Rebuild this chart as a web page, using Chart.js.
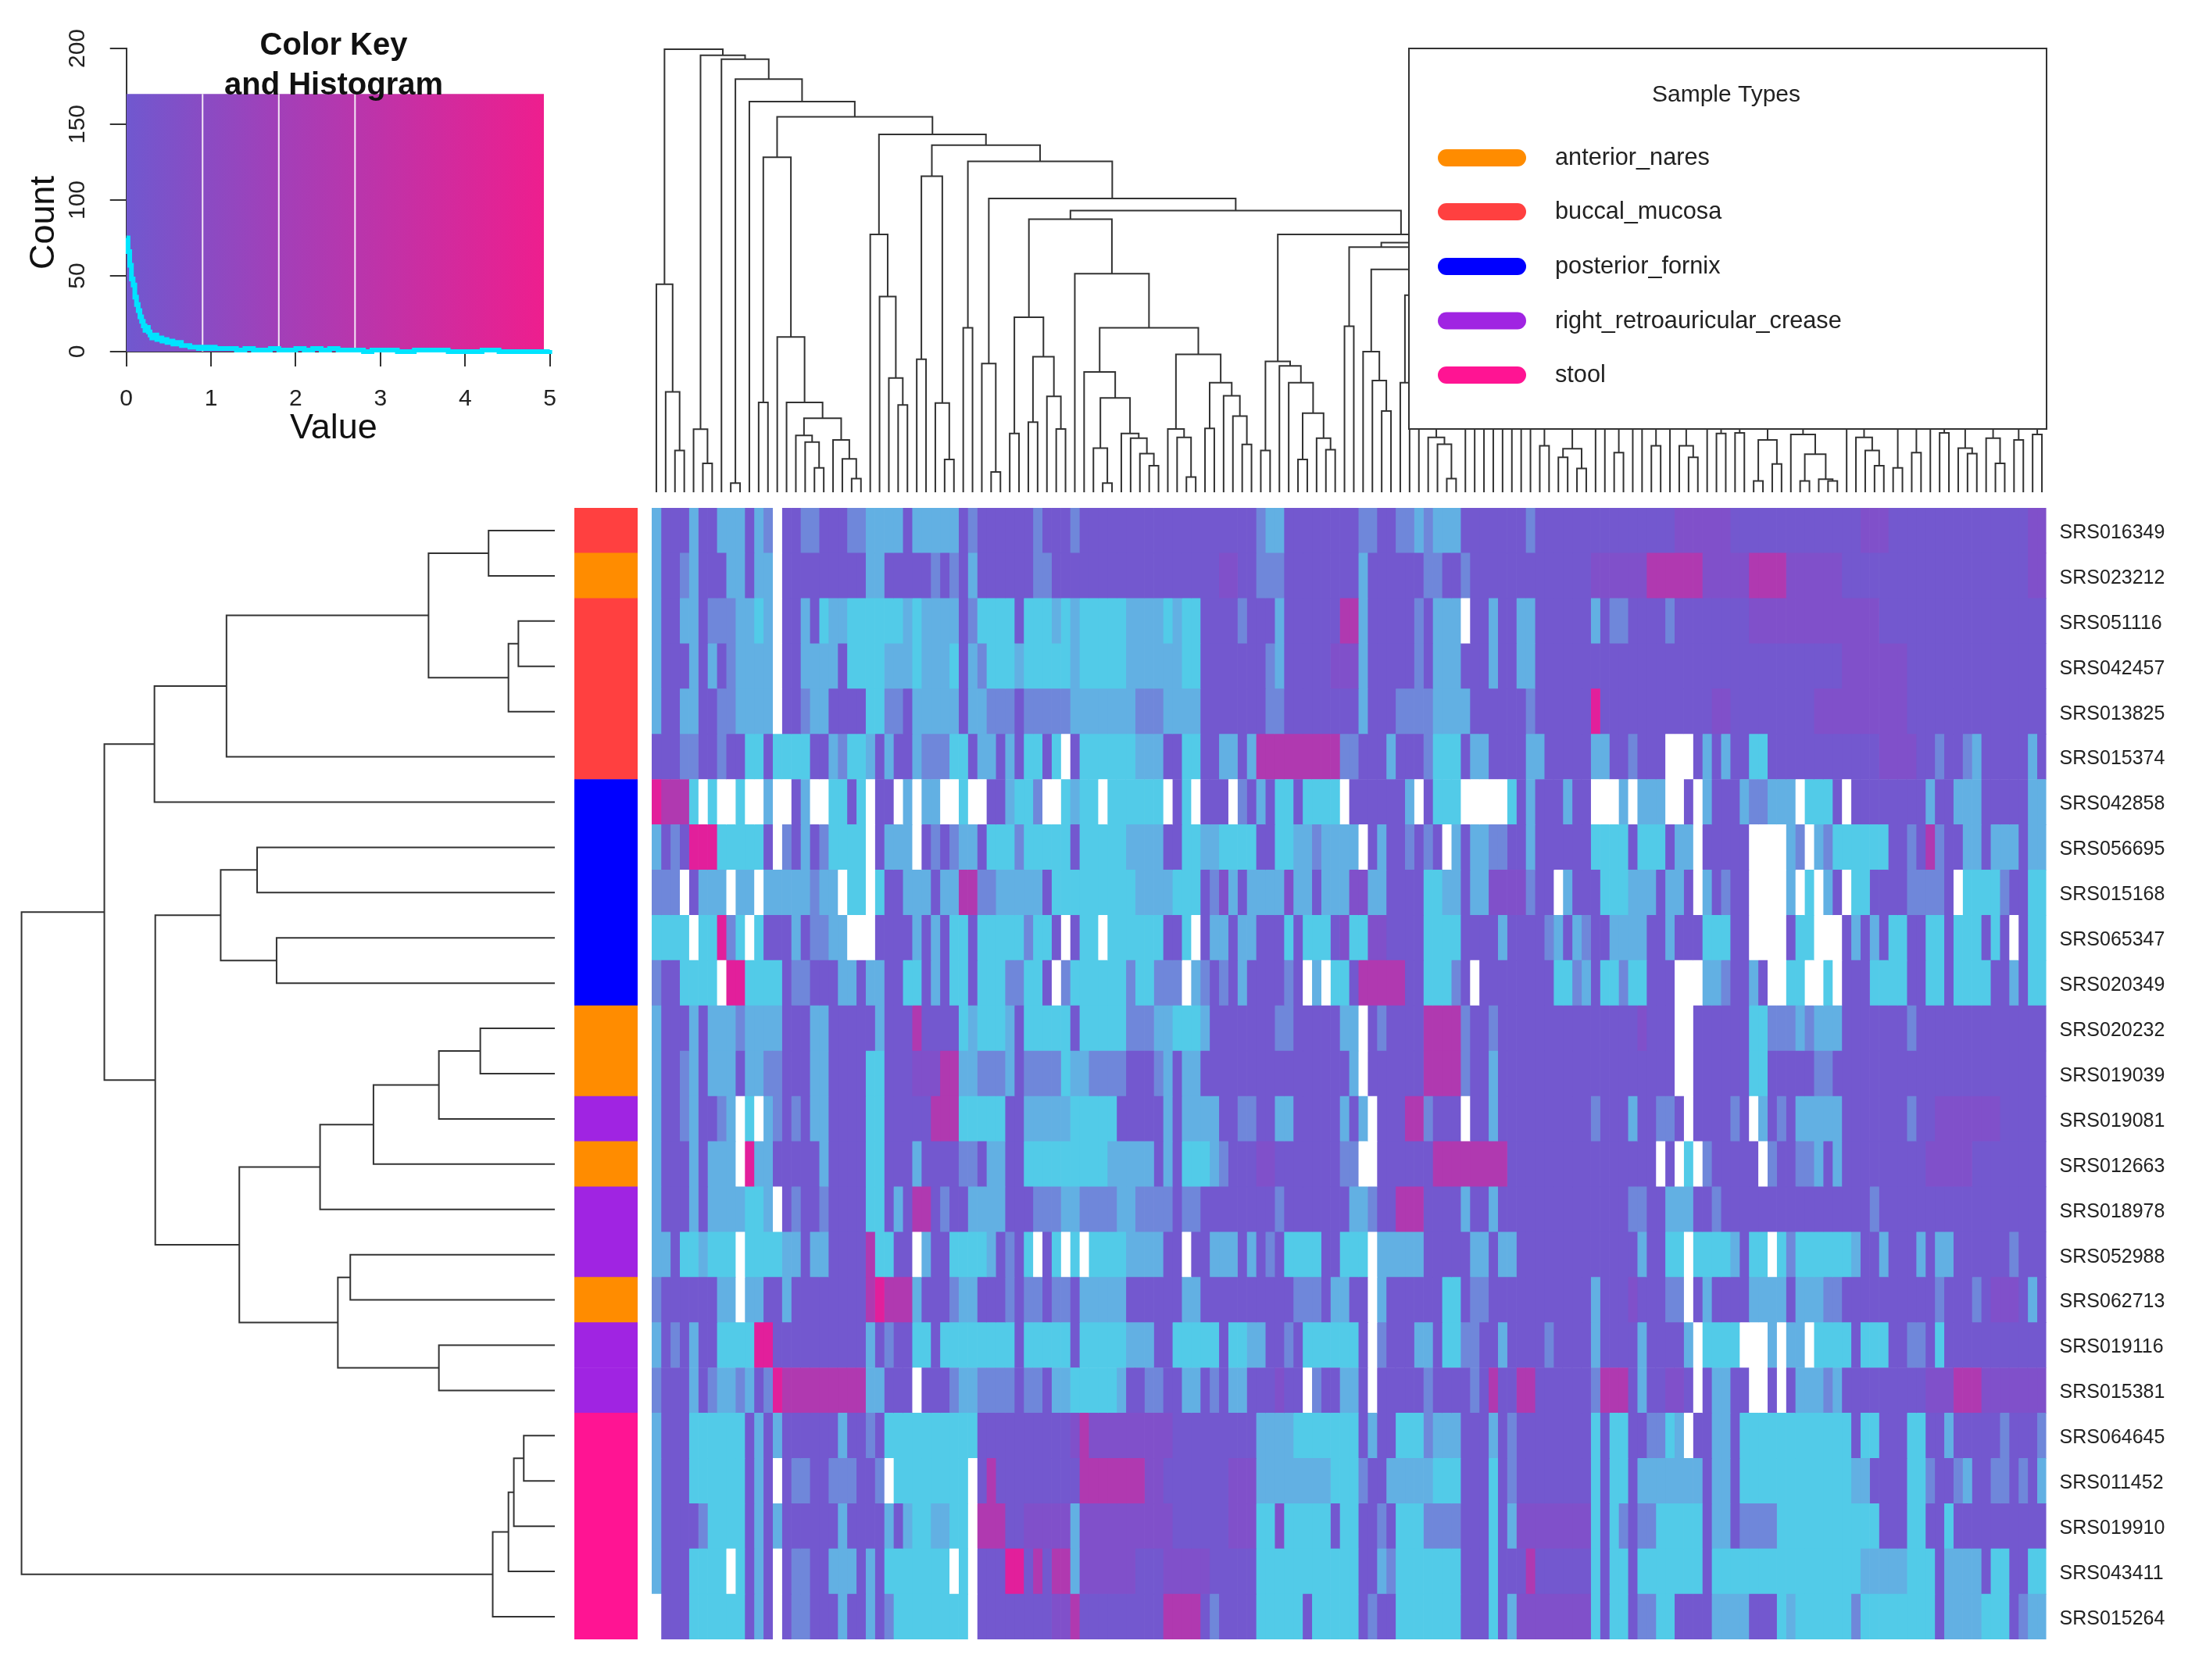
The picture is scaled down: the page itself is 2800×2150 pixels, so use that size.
<!DOCTYPE html>
<html lang="en">
<head>
  <meta charset="UTF-8" />
  <title>Heatmap with Color Key</title>
  <script src="https://cdn.jsdelivr.net/npm/chart.js"></script>
  <style>
    body { margin: 0; background: #fff; }
    #page { position: relative; width: 2800px; height: 2150px; overflow: hidden; background: #fff; }
    canvas { position: absolute; display: block; filter: blur(0.6px); }
    #keyChart { left: 0; top: 0; }
    #topTreeChart { left: 834px; top: 60px; }
    #leftTreeChart { left: 0; top: 650px; }
    #sideChart { left: 735px; top: 650px; }
    #heatChart { left: 834px; top: 650px; }
    #legendChart { left: 1802px; top: 61px; }
  </style>
</head>
<body>
<div id="page">
  <canvas id="keyChart" width="800" height="640"></canvas>
  <canvas id="topTreeChart" width="1785" height="570"></canvas>
  <canvas id="leftTreeChart" width="710" height="1448"></canvas>
  <canvas id="sideChart" width="81" height="1448"></canvas>
  <canvas id="heatChart" width="1966" height="1448"></canvas>
  <canvas id="legendChart" width="818" height="489"></canvas>
</div>
<script>
  // samples, top to bottom
  const sampleLabels = ["SRS016349", "SRS023212", "SRS051116", "SRS042457", "SRS013825", "SRS015374",
    "SRS042858", "SRS056695", "SRS015168", "SRS065347", "SRS020349", "SRS020232", "SRS019039",
    "SRS019081", "SRS012663", "SRS018978", "SRS052988", "SRS062713", "SRS019116", "SRS015381",
    "SRS064645", "SRS011452", "SRS019910", "SRS043411", "SRS015264"];

  const sampleTypes = ["anterior_nares", "buccal_mucosa", "posterior_fornix", "right_retroauricular_crease", "stool"];
  const typeColors = ["#ff8c00", "#ff4040", "#0000ff", "#a024e2", "#ff1493"];
  const sampleTypeOfRow = [1, 0, 1, 1, 1, 1, 2, 2, 2, 2, 2, 0, 0, 3, 0, 3, 3, 0, 3, 3, 4, 4, 4, 4, 4];

  // cell levels: p low purple, m/r/k rising to pink, l/b/c blue side, w empty
  const levelColors = { p: "#7358cf", m: "#8050ca", r: "#b039b0", k: "#e21f9b",
                        l: "#6f87da", b: "#62b0e3", c: "#52cbe8", w: "#ffffff" };

  // one string per row: "<first column><level>", each run lasts until the next one
  const heatRuns = [
    "0b 1p 4b 5p 7b 10p 11b 12l 13w 14p 16l 18p 21l 23b 27p 28b 33p 34l 35p 41l 42p 45l 46p 65l 66b 68p 76l 78p 80l 82b 83l 84b 87p 94l 95p 110m 116p 130m 133p 148m",
    "0b 1p 3l 4b 5p 8b 10p 11b 13w 14p 23b 25p 30l 31p 32l 33p 34b 35p 41l 43p 61m 63p 65l 68p 76b 77p 83l 85p 87l 88p 101m 107r 113m 118r 122m 128p 148m",
    "0b 1p 3b 5p 6l 9b 11c 12b 13w 14p 16b 17p 18c 19b 21c 27b 28c 29b 33p 34l 35c 39p 40c 43b 44c 45b 46c 51b 55c 56b 57c 59p 63l 64p 67b 68p 74r 76b 77p 82l 83p 84b 87w 88p 90b 91p 93b 95p 101b 102p 103l 105p 109l 110p 118m 132p",
    "0b 1p 4b 5p 6b 7p 8l 9b 13w 14p 16b 20p 21c 25b 28c 29b 32c 33p 34b 35l 36c 39b 40c 45b 46c 51b 57c 59p 66l 67b 68p 73m 76b 77p 82l 83p 84b 87p 90b 91p 93b 95p 128m 135p",
    "0b 1p 3b 5p 7l 9b 13w 14p 16l 17b 19p 23c 25l 27p 28b 33p 34b 36l 39p 40l 45b 52l 55b 59p 66l 68p 76b 77p 80l 84b 88p 94l 95p 101k 102p 114m 116p 125m 135p",
    "0p 3l 5p 7l 8p 10c 12p 13c 17p 19b 20l 21c 23b 24p 25b 26p 28b 29l 32c 34p 35b 37p 38b 39p 40c 42p 43c 44w 45p 46c 52b 55p 57c 59p 61b 63p 64b 65r 74l 76p 79b 80p 83l 84c 87p 88b 90p 94b 96p 101b 103p 105l 106p 109w 112p 113b 114p 115b 116p 118c 120p 132m 136p 138l 139p 141l 142b 143p 148b 149p",
    "0k 1r 4c 5w 6c 7w 9c 10w 12b 13w 15p 16b 17w 19c 21p 22c 23w 24p 26w 27b 28w 29b 31w 33c 34w 36p 38b 39c 41l 42w 44c 45b 46c 48w 49c 55w 56p 57c 58w 59p 62w 63l 64p 65b 66p 67c 69p 70c 74w 75p 81b 82w 83p 84c 87w 92c 93p 94b 95p 98b 99p 101w 104b 105w 106b 109w 111p 112w 113b 114p 117b 118l 120b 123w 124c 127p 128w 129p 137b 138p 140b 143p 148b",
    "0b 1p 2l 3p 4k 7c 12p 13w 14l 15p 16b 17p 18l 19c 23w 24p 25b 28w 29p 30l 31p 32l 33b 35p 36c 39l 40c 45p 46c 51b 55p 57c 59b 61c 65p 67c 69b 71l 72b 76w 77p 78b 79p 81l 82p 83l 84p 85w 86b 87p 88b 90l 92p 94b 95p 101c 105p 106c 109p 110b 112w 113p 118w 122b 123l 124w 125b 126l 127c 133p 135l 136p 137r 138l 139p 141b 143p 144b 147p 148b",
    "0l 3w 4p 5b 8w 9b 11w 12b 17l 18b 20w 21c 23w 24c 25p 27b 30p 31b 33r 35l 37b 42p 43c 52b 55b 56c 59p 60l 61m 62b 63p 64b 68m 69b 71p 72b 75m 77b 79p 83c 85b 87p 88b 90m 94l 95p 97w 98b 99p 102c 105b 108p 109b 111p 112w 113b 114p 115l 116p 118w 122b 123w 124c 125w 126b 127p 128w 129c 131p 135l 139p 140w 141c 145l 146p 148c",
    "0c 4w 5c 7k 8l 9c 10w 11c 12p 15b 16p 17l 19b 21w 24p 28b 29p 30b 31p 32c 34p 35c 40l 41c 43p 44w 45p 46c 48w 49c 55p 57c 58w 59p 60b 62p 63b 65p 68c 69p 70c 73p 74m 75c 77m 79p 83c 87p 91b 92p 96l 97b 98p 99b 100l 101p 103b 107p 109b 110p 113c 116p 118w 122p 123c 125w 128p 129b 130p 131b 132p 133c 135p 137c 139p 140c 143p 144c 145p 146w 147p 148c",
    "0l 1p 3c 7w 8k 10c 14p 15l 17p 20b 22p 23b 25p 27c 29p 30b 31p 32c 34p 35c 38l 40c 42p 43w 44l 45c 51l 52c 54l 57w 58b 59l 60p 61l 62p 63b 64p 68l 69p 70w 71b 72w 73c 75p 76r 81p 83c 86l 87p 88w 89p 97c 99l 100b 101p 102c 104l 105c 107p 110w 113b 115l 116p 118b 119p 120w 122c 124w 126c 127w 128p 131c 135p 137c 139p 140c 144p 146b 147p 148c",
    "0b 1p 4b 5p 6b 9l 10b 14p 17b 19p 24b 25p 28r 29p 33c 34b 35c 38b 39p 40c 45p 46c 51l 54b 56c 59b 60p 67l 69p 74b 76w 77p 78l 79p 83r 87l 88p 90l 91p 106m 107p 110w 112p 118c 120l 123b 124l 125b 128p 135l 136p",
    "0b 1p 3l 4b 5p 6b 9p 10b 12l 14p 17b 19p 23c 25p 28m 31r 33b 35l 38b 39p 40l 44c 45b 47l 51p 54l 55b 56p 57b 59p 75b 76w 77p 83r 87l 88p 90b 91p 110w 112p 118c 120p 125l 127p",
    "0b 1p 3l 4b 5p 7l 8b 9w 10c 11w 12b 13l 14p 15l 16p 17b 19p 23c 25p 30r 33c 38p 40b 45c 50p 55b 56p 57b 61p 63l 65p 67b 69p 74b 75p 76b 77w 78p 81r 83l 84p 87w 88p 90b 91p 101l 102p 105b 106p 108l 110p 111w 112p 116l 117p 118w 119b 120p 121l 122p 123b 128p 135l 136p 138m 145p",
    "0b 1p 4b 5p 6b 9w 10k 11b 13p 18b 19p 23c 25p 28b 29p 33l 35p 36b 38p 40c 49b 54p 55b 56p 57c 60b 61l 62p 65m 67p 74l 76w 78p 84r 92p 108w 109p 110w 111c 112w 113l 114p 119w 120l 121p 123l 125b 126p 127b 128p 137m 142p",
    "0b 1p 4b 5p 6b 10c 12b 13w 14p 15l 16p 18l 19p 23c 25p 26b 27p 28r 30p 31l 32p 34b 38p 41l 44b 46l 50b 52l 56p 57l 59p 67l 68p 75b 77l 78p 80r 83p 87b 88p 90b 91p 105l 107p 109b 112p 114l 115p 131l 132p",
    "0b 2p 3c 5b 6c 9w 10c 14b 16p 17b 19p 23r 24c 26p 28w 29b 30p 32c 36b 37p 38l 39p 40c 41w 42p 43c 44w 45c 46w 47c 51b 55p 57w 58p 60b 63p 64b 65p 66l 67p 68c 72p 74c 77w 78b 83p 88b 90p 91b 93p 106b 107p 109c 111w 112c 116b 117p 118c 120w 121c 122l 123c 129b 130p 132b 133p 136b 137p 138b 140p 146l 147p",
    "0l 1p 7b 9w 10b 12p 14b 15p 23r 24k 25r 28b 29p 32l 33b 35p 38l 39p 40l 42p 43l 45p 46b 51p 57b 59p 69l 72p 73b 75p 77w 78b 79p 85c 87p 88l 90p 101b 102p 105m 106p 109l 111w 112p 113b 114p 118b 122p 123b 126l 128p 138l 139p 142l 143p 144m 147p 148b 149p",
    "0b 1p 2l 3p 4b 5p 7c 11k 13p 23b 24p 25l 26p 28c 30p 31c 39p 40c 45p 46c 51b 54p 56c 61p 62c 64b 66p 68l 69p 70c 76p 77w 78l 79p 82b 84p 85c 87l 89p 91b 92p 96l 97p 101b 102p 106b 107p 111b 112w 113c 117w 120b 121w 122b 124w 125c 129p 130c 133p 135l 137p 138c 139p",
    "0l 1p 4b 5p 6l 7b 9l 10b 11p 12l 13k 14r 23b 25p 28w 29p 32l 33b 35l 39p 40l 42p 43b 45c 50b 51p 53l 55p 57b 59p 60l 61p 62b 64p 67m 68p 70w 71l 72p 74b 76p 77w 78p 83l 84p 88l 89p 90r 91p 93r 95p 101l 102r 105p 106b 107p 109m 111p 112w 113p 114b 116p 118w 120p 121w 122p 123b 126l 127b 128p 137m 140r 143m",
    "0b 1p 4c 10p 11b 12p 13b 14p 20b 21p 23l 24p 25c 35p 45m 46r 47m 56p 65b 69c 76p 77b 78p 80c 83l 84b 87p 90b 91p 92l 93p 101c 102p 103c 105p 107l 109c 110b 111w 112p 114b 116p 117c 129p 130c 132p 135c 137p 139b 140p 145l 146p 149l",
    "0b 1p 4c 10p 11b 12p 13w 14p 15l 17p 19l 22p 24l 25w 26c 34w 35p 36r 37p 46r 53m 55p 62m 65b 73c 76l 77p 79b 84c 87p 90c 91p 92l 93p 101c 102p 103c 105p 106b 113p 114b 116p 117c 129b 131p 135c 137l 138p 140l 141b 142p 144l 146p 147l 148p 149b",
    "0b 1p 5l 6c 10p 11b 12p 13b 14p 20b 21p 25b 26p 27b 28c 30b 32c 34w 35r 38p 40m 45b 46m 56p 62m 65c 67m 68c 73p 74c 76p 78l 79p 80c 83l 87p 90c 91p 92b 93m 101c 102p 103c 104l 105p 106l 108c 113p 114b 116p 117l 121c 132p 135c 137p 139c 140p",
    "0b 1p 4c 8w 9c 10p 11b 12p 13w 14p 15l 17p 19b 22p 23b 24p 25c 32w 33c 34w 35p 38k 40p 41r 42p 43r 45b 46m 52p 55m 60p 65c 76p 78b 79l 80c 87p 90c 91p 94r 95p 101c 102p 103c 105p 106c 113p 114c 130b 135c 138p 139b 143p 144c 146p 148c",
    "0w 1p 4c 10p 11b 12p 13w 14p 15l 17p 20b 21p 23b 24p 25l 26c 34w 35p 43m 45r 46p 55r 59p 60l 61p 65c 70p 71c 76p 77l 78p 80c 87p 90c 91p 92b 93m 101c 102p 103c 105p 106l 108c 110p 114b 118p 121c 122b 123c 129l 130c 138p 139b 143c 146p 147l 148b"
  ];
  const columnCount = 150;

  // color key
  const keyTicksX = [0, 1, 2, 3, 4, 5];
  const keyBandX = [0, 4.93];
  const keyBandY = [170, 170];
  const keyLinesX = [0.9, 1.8, 2.7];
  const histX = [0, .02, .04, .06, .08, .1, .12, .14, .16, .18, .2, .22, .24, .26, .28, .3, .33, .36, .39, .42, .45, .48, .51, .55, .6,
    .65, .7, .75, .8, .85, .9, .95, 1, 1.05, 1.1, 1.2, 1.3, 1.4, 1.5, 1.6, 1.7, 1.8, 1.9, 2, 2.1, 2.2, 2.3, 2.4, 2.5, 2.6, 2.7, 2.8, 2.9, 3, 3.2,
    3.4, 3.6, 3.8, 4, 4.2, 4.4, 4.6, 4.8, 5];
  const histY = [75, 66, 57, 48, 44, 36, 31, 27, 23, 20, 17, 14, 16, 13, 11, 9, 11, 8, 9, 7, 8, 6, 7, 5, 6,
    4, 4, 3, 3, 2, 3, 2, 3, 2, 2, 2, 1, 2, 1, 1, 2, 1, 1, 2, 1, 2, 1, 2, 1, 1, 1, 0, 1, 1, 0,
    1, 1, 0, 0, 1, 0, 0, 0, 1];

  // dendrograms: [height, left, right]; 0 is the next leaf in order
  const rowTree = [1288,
    [1088,
      [967, [793, [305, [160, 0, 0], [112, [88, 0, 0], 0]], 0], 0],
      [965,
        [807, [719, 0, 0], [672, 0, 0]],
        [762,
          [567, [438, [280, [180, 0, 0], 0], 0], 0],
          [524, [494, 0, 0], [280, 0, 0]]]]],
    [150, [112, [99, [75, 0, 0], 0], 0], 0]];

  // the legend box hides the top of the right hand side of the column tree,
  // {col} is a branch going under the box at that column
  const hiddenHeight = 260;
  const colTree = [1455,
    [683, 0, [330, 0, [137, 0, 0]]],
    [1435,
      [207, 0, [95, 0, 0]],
      [1422, 0,
        [1357, [30, 0, 0],
          [1283, 0,
            [1233,
              [1100, [295, 0, 0],
                [510, 0,
                  [295, 0,
                    [243,
                      [187, 0, [165, 0, [80, 0, 0]]],
                      [172, 0, [110, 0, [45, 0, 0]]]]]]],
              [1175,
                [847, 0, [643, 0, [375, 0, [287, 0, 0]]]],
                [1140,
                  [1038, [437, 0, 0], [293, 0, [108, 0, 0]]],
                  [1087,
                    [540, 0, 0],
                    [965,
                      [423, 0, [67, 0, 0]],
                      [925,
                        [897,
                          [575, [193, 0, 0], [445, [230, 0, 0], [315, 0, [208, 0, 0]]]],
                          [718, 0,
                            [540,
                              [395, 0,
                                [310,
                                  [145, 0, [30, 0, 0]],
                                  [193, 0, [178, 0, [127, 0, [87, 0, 0]]]]]],
                              [453,
                                [208, 0, [180, 0, [50, 0, 0]]],
                                [360, [210, 0, 0], [317, 0, [250, 0, [157, 0, 0]]]]]]]],
                        [847,
                          [430, [137, 0, 0], [415, 0, [360, 0, [260, [108, 0, 0], [178, 0, [140, 0, 0]]]]]],
                          [820,
                            [805, [545, 0, 0],
                              [732, [462, 0, [367, 0, [267, 0, 0]]],
                                [647, [360, 0, 0], { col: 91.9 }]]],
                            { col: 109.2 }]]]]]]]]]]]]];

  const colTreeUnderBox = [0, [180, 0, [158, 0, [45, 0, 0]]], 0, 0, 0, 0, 0, 0, 0, 0,
    [153, 0, 0], [143, [115, 0, 0], [78, 0, 0]], 0, 0, [130, 0, 0], 0, 0, [153, 0, 0], 0,
    [153, 0, [115, 0, 0]], 0, [193, 0, 0], [195, 0, 0], [172, [37, 0, 0], [93, 0, 0]],
    [190, 0, [125, [37, 0, 0], [43, 0, [37, 0, 0]]]], 0, [180, 0, [137, 0, [87, 0, 0]]],
    [80, 0, 0], [130, 0, 0], 0, [195, 0, 0], [145, 0, [127, 0, 0]], [178, 0, [95, 0, 0]],
    [172, 0, 0], [190, 0, 0]];

  const fontName = "'Liberation Sans', Arial, sans-serif";
  const lineColor = "#333";

  function decodeRuns(str) {
    const cells = new Array(columnCount);
    const runs = str.trim().split(/\s+/).map(t => [parseInt(t), t.slice(-1)]);
    runs.forEach((run, i) => {
      const end = i + 1 < runs.length ? runs[i + 1][0] : columnCount;
      for (let c = run[0]; c < end; c++) cells[c] = run[1];
    });
    return cells;
  }

  // turn a tree into paths of [position, height], one path per merge
  function treePaths(trees, capHeight) {
    const paths = [];
    let nextLeaf = 0;
    function walk(n) {
      if (n === 0) return { pos: nextLeaf++ + 0.5, h: 0 };
      if (n.col !== undefined) return { pos: n.col, h: hiddenHeight };
      const a = walk(n[1]);
      const b = walk(n[2]);
      paths.push([[a.pos, a.h], [a.pos, n[0]], [b.pos, n[0]], [b.pos, b.h]]);
      return { pos: (a.pos + b.pos) / 2, h: n[0] };
    }
    trees.forEach(t => {
      const top = walk(t);
      if (capHeight && top.h < capHeight) paths.push([[top.pos, top.h], [top.pos, capHeight]]);
    });
    return paths;
  }

  // small text layer, used where the text sits over the plot or away from the axis centre
  const textLayer = {
    id: "textLayer",
    afterDraw(chart, args, opts) {
      const ctx = chart.ctx;
      (opts.items || []).forEach(t => {
        ctx.save();
        ctx.translate(t.x, t.y);
        if (t.rotate) ctx.rotate(t.rotate);
        ctx.font = t.font;
        ctx.fillStyle = t.color || "#111";
        ctx.textAlign = t.align || "center";
        ctx.textBaseline = "middle";
        ctx.fillText(t.text, 0, 0);
        ctx.restore();
      });
    }
  };

  const baseOptions = {
    responsive: false,
    animation: false,
    devicePixelRatio: 1,
    events: [],
    plugins: { legend: { display: false }, tooltip: { enabled: false } }
  };

  // color key and histogram
  new Chart(document.getElementById("keyChart"), {
    type: "scatter",
    data: {
      datasets: [
        {
          data: histX.map((x, i) => ({ x, y: histY[i] })),
          showLine: true, stepped: true, borderColor: "#00e4ff", borderWidth: 6, pointRadius: 0, order: 1, clip: false
        },
        ...keyLinesX.map(x => ({
          data: [{ x, y: 0 }, { x, y: keyBandY[0] }],
          showLine: true, borderColor: "#f3e6f5", borderWidth: 2, pointRadius: 0, order: 2
        })),
        {
          data: keyBandX.map((x, i) => ({ x, y: keyBandY[i] })),
          showLine: true, borderWidth: 0, pointRadius: 0, fill: "origin", order: 3,
          backgroundColor(c) {
            const { chart } = c;
            if (!chart.chartArea) return "#a83cb4";
            const g = chart.ctx.createLinearGradient(chart.scales.x.getPixelForValue(keyBandX[0]), 0, chart.scales.x.getPixelForValue(keyBandX[1]), 0);
            g.addColorStop(0, "#7058cf");
            g.addColorStop(0.37, "#a33fb8");
            g.addColorStop(1, "#ee1e8e");
            return g;
          }
        }
      ]
    },
    options: {
      ...baseOptions,
      layout: { padding: { top: 62, right: 96.4 } },
      scales: {
        x: {
          type: "linear", min: 0, max: 5,
          afterBuildTicks(axis) { axis.ticks = keyTicksX.map(value => ({ value })); },
          afterFit(axis) { axis.height = 190; },
          border: { color: lineColor, width: 2 },
          grid: { drawOnChartArea: false, tickLength: 19, color: lineColor, lineWidth: 2 },
          ticks: { font: { family: fontName, size: 30 }, color: "#222", padding: 24, maxRotation: 0 }
        },
        y: {
          min: 0, max: 200,
          afterBuildTicks(axis) { axis.ticks = [0, 50, 100, 150, 200].map(value => ({ value })); },
          afterFit(axis) { axis.width = 161.7; },
          border: { color: lineColor, width: 2 },
          grid: { drawOnChartArea: false, tickLength: 21, color: lineColor, lineWidth: 2 },
          ticks: { font: { family: fontName, size: 30 }, color: "#222", padding: 16, minRotation: 90, maxRotation: 90, crossAlign: "center" }
        }
      },
      plugins: {
        ...baseOptions.plugins,
        textLayer: {
          items: [
            { text: "Color Key", x: 427, y: 59, font: `bold 40px ${fontName}` },
            { text: "and Histogram", x: 427, y: 110, font: `bold 40px ${fontName}` },
            { text: "Value", x: 427, y: 549, font: `45px ${fontName}` },
            { text: "Count", x: 57, y: 285, font: `45px ${fontName}`, rotate: -Math.PI / 2 }
          ]
        }
      }
    },
    plugins: [textLayer]
  });

  function treeChart(id, paths, vertical, xScale, yScale, padding) {
    return new Chart(document.getElementById(id), {
      type: "scatter",
      data: {
        datasets: paths.map(path => ({
          data: path.map(p => vertical ? { x: p[0], y: p[1] } : { x: p[1], y: p[0] }),
          showLine: true, borderColor: lineColor, borderWidth: 2, pointRadius: 0, clip: false
        }))
      },
      options: {
        ...baseOptions,
        layout: { padding },
        scales: {
          x: { type: "linear", display: false, ...xScale },
          y: { type: "linear", display: false, ...yScale }
        }
      }
    });
  }

  treeChart("topTreeChart", treePaths([colTree].concat(colTreeUnderBox), hiddenHeight), true,
    { min: 0, max: columnCount }, { min: 0, max: 1455 }, { top: 3 });
  treeChart("leftTreeChart", treePaths([rowTree]), false,
    { min: 0, max: 1340, reverse: true }, { min: 0, max: sampleLabels.length, reverse: true }, 0);

  // side colour bar
  new Chart(document.getElementById("sideChart"), {
    type: "bar",
    data: {
      labels: sampleLabels,
      datasets: [{
        data: sampleLabels.map(() => 1),
        backgroundColor: sampleTypeOfRow.map(t => typeColors[t]),
        barPercentage: 1, categoryPercentage: 1
      }]
    },
    options: {
      ...baseOptions,
      indexAxis: "y",
      scales: { x: { display: false, min: 0, max: 1 }, y: { display: false } }
    }
  });

  // heatmap: every column is a dataset of stacked unit cells
  const heatCells = heatRuns.map(decodeRuns);
  const columnData = [];
  for (let c = 0; c < columnCount; c++) {
    columnData.push({
      data: sampleLabels.map(() => 1),
      backgroundColor: heatCells.map(row => levelColors[row[c]]),
      barPercentage: 1, categoryPercentage: 1
    });
  }
  new Chart(document.getElementById("heatChart"), {
    type: "bar",
    data: { labels: sampleLabels, datasets: columnData },
    options: {
      ...baseOptions,
      indexAxis: "y",
      scales: {
        x: { display: false, stacked: true, min: 0, max: columnCount },
        y: {
          stacked: true, position: "right",
          afterFit(axis) { axis.width = 181.4; axis.paddingTop = 0; axis.paddingBottom = 0; },
          grid: { display: false }, border: { display: false },
          ticks: { autoSkip: false, padding: 9, labelOffset: 3, color: "#222", font: { family: fontName, size: 25 } }
        }
      }
    }
  });

  // legend box, sits on top of the column tree
  const legendRows = [141, 210, 280, 349.5, 419];
  const legendBox = {
    id: "legendBox",
    beforeDraw(chart) {
      const ctx = chart.ctx;
      ctx.save();
      ctx.fillStyle = "#fff";
      ctx.fillRect(0, 0, chart.width, chart.height);
      ctx.strokeStyle = lineColor;
      ctx.lineWidth = 2;
      ctx.strokeRect(1, 1, chart.width - 2, chart.height - 2);
      sampleTypes.forEach((t, i) => {
        ctx.fillStyle = typeColors[i];
        ctx.beginPath();
        ctx.roundRect(38, legendRows[i] - 11, 113, 22, 11);
        ctx.fill();
      });
      ctx.restore();
    }
  };
  new Chart(document.getElementById("legendChart"), {
    type: "scatter",
    data: { datasets: [] },
    options: {
      ...baseOptions,
      scales: { x: { display: false }, y: { display: false } },
      plugins: {
        ...baseOptions.plugins,
        textLayer: {
          items: [{ text: "Sample Types", x: 407, y: 61, font: `30px ${fontName}`, color: "#222" }]
            .concat(sampleTypes.map((t, i) => ({ text: t, x: 188, y: legendRows[i] + 1, align: "left", font: `30.7px ${fontName}`, color: "#222" })))
        }
      }
    },
    plugins: [legendBox, textLayer]
  });
</script>
</body>
</html>
